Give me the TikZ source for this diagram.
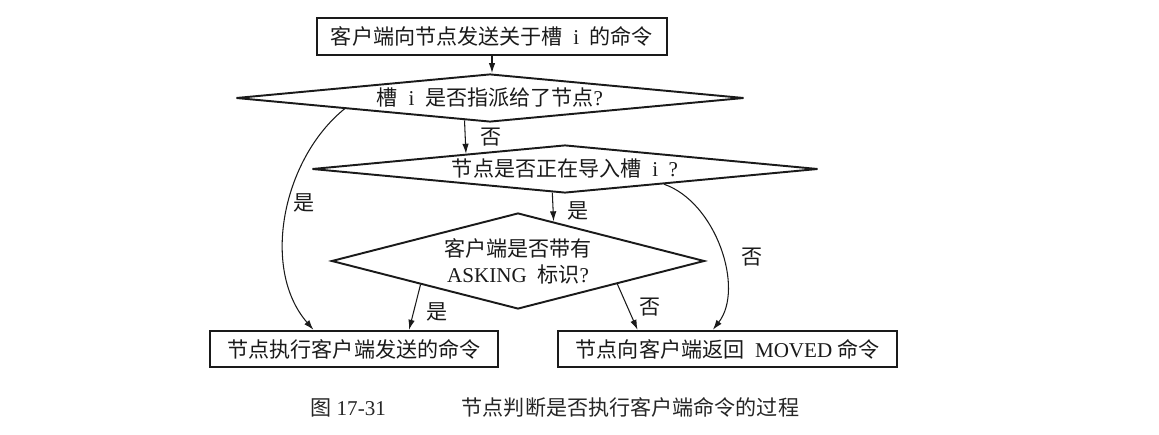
\documentclass[tikz,border=0pt]{standalone}
\usepackage{fontspec}
\setmainfont{Liberation Serif}
\newfontfamily\cjk{Noto Sans CJK SC}
\usetikzlibrary{arrows.meta,positioning,shapes.geometric,calc}
\usepackage{xcolor}
\definecolor{ink}{HTML}{1A1A1A}
\newcommand\lat[1]{{\rmfamily #1}}
\tikzset{
  box/.style={draw=ink, line width=1.1pt, minimum height=0.73cm, inner sep=1mm, text=ink, font=\cjk\fontsize{12pt}{14.8pt}\selectfont},
  decision/.style={diamond, draw=ink, line width=1.1pt, inner sep=0pt, align=center, text=ink, font=\cjk\fontsize{12pt}{14.8pt}\selectfont},
  arrow/.style={-{Latex[length=2mm,width=1.3mm]}, line width=0.6pt, draw=ink},
  lbl/.style={inner sep=1pt, text=ink, font=\cjk\fontsize{12pt}{14.8pt}\selectfont}
}
\begin{document}
\begin{tikzpicture}[x=0.02cm, y=-0.02cm]
  \useasboundingbox (0,0) rectangle (1159,435);
  \node[box, minimum width=7cm] (send) at (492,36.5) {客户端向节点发送关于槽\enspace\lat{i}\enspace 的命令};
  \node[decision, aspect=10.58, minimum width=10.16cm, minimum height=0.96cm] (assigned) at (490,98) {槽\enspace\lat{i}\enspace 是否指派给了节点\lat{?}};
  \node[decision, aspect=10.54, minimum width=10.12cm, minimum height=0.96cm] (importing) at (565,169) {节点是否正在导入槽\enspace\lat{i}\enspace\lat{?}};
  \node[decision, aspect=3.89, minimum width=7.46cm, minimum height=1.92cm] (asking) at (518,261) {客户端是否带有\\\lat{ASKING}\enspace 标识\lat{?}};
  \node[box, minimum width=5.76cm] (exec) at (354,349) {节点执行客户端发送的命令};
  \node[box, minimum width=6.78cm] (moved) at (727.5,349) {节点向客户端返回\enspace\lat{MOVED}\ 命令};
  \node[lbl, text=black!85] (caption) at (555,407) {图 \lat{17-31}\hspace{3.6em}节点判断是否执行客户端命令的过程};

  \draw[arrow] (send) -- (send |- assigned.north);
  \draw[arrow] ($(assigned.south)!0.1!(assigned.west)$) -- ($(importing.north)!0.39!(importing.west)$) node[lbl, pos=0.5, right=0.26cm] (no1) {否};
  \draw[arrow] ($(importing.south)!0.05!(importing.west)$) -- ($(asking.north)!0.19!(asking.east)$) node[lbl, pos=0.65, right=0.24cm] (yes2) {是};
  \draw[arrow] ($(assigned.west)!0.43!(assigned.south)$) .. controls +(-62,50) and +(-53,-61) .. ($(exec.north west)!0.36!(exec.north east)$) node[lbl, pos=0.45, right=0.06cm] (yes1) {是};
  \draw[arrow] ($(importing.south)!0.39!(importing.east)$) .. controls +(52,18) and +(32,-41) .. ($(moved.north west)!0.457!(moved.north east)$) node[lbl, pos=0.55, right=0.34cm] (no2) {否};
  \draw[arrow] ($(asking.west)!0.48!(asking.south)$) -- ($(exec.north west)!0.69!(exec.north east)$) node[lbl, pos=0.6, right=0.22cm] (yes3) {是};
  \draw[arrow] ($(asking.south)!0.53!(asking.east)$) -- ($(moved.north west)!0.236!(moved.north east)$) node[lbl, pos=0.5, right=0.2cm] (no3) {否};
\end{tikzpicture}
\end{document}
